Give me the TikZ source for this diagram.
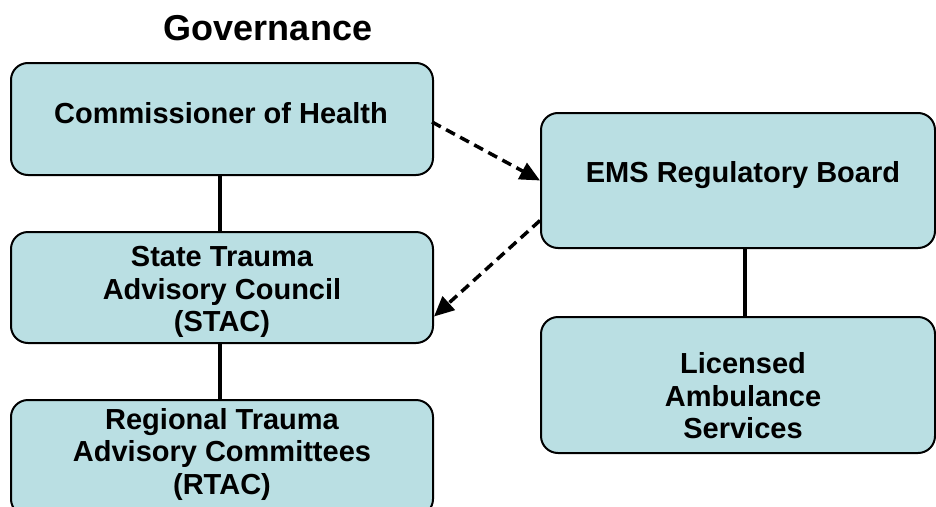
\documentclass[tikz,border=0pt]{standalone}
\usepackage{fontspec}
\setmainfont{Liberation Sans}
\usetikzlibrary{arrows.meta,calc}
\definecolor{boxblue}{RGB}{186,223,227}
\tikzset{
  govbox/.style={rectangle, rounded corners=17pt, draw=black, line width=2pt, fill=boxblue, inner sep=0pt},
  govtext/.style={align=center, inner sep=0pt, font=\bfseries\fontsize{29}{32.5}\selectfont},
  solidlink/.style={line width=4.5pt, draw=black},
  dashlink/.style={line width=3.5pt, draw=black, dash pattern=on 10pt off 6pt, -{Triangle[length=20pt,width=18pt]}},
}
\begin{document}
\begin{tikzpicture}[x=1pt,y=-1pt]
\useasboundingbox (0,0) rectangle (936,506);
\begin{scope}
\clip (0,0) rectangle (936,506);
\node[govbox, minimum width=422pt, minimum height=112pt] (com) at (222,119) {};
\node[govbox, minimum width=422pt, minimum height=111pt] (stac) at (222,287.5) {};
\node[govbox, minimum width=422pt, minimum height=116pt] (rtac) at (222,458) {};
\node[govbox, minimum width=394pt, minimum height=135pt] (ems) at (738,180.5) {};
\node[govbox, minimum width=394pt, minimum height=136pt] (lic) at (738,385) {};

\node[font=\bfseries\fontsize{36}{40}\selectfont, inner sep=0pt] (title) at (268,28) {Governance};
\node[govtext] (comt) at (221,113) {Commissioner of Health};
\node[govtext] (stact) at (222,292) {State Trauma\\Advisory Council\\(STAC)};
\node[govtext] (rtact) at (222,454) {Regional Trauma\\Advisory Committees\\(RTAC)};
\node[govtext] (emst) at (743,175) {EMS Regulatory Board};
\node[govtext] (lict) at (743,396) {Licensed\\Ambulance\\Services};

\draw[solidlink] (com.south -| 220,0) -- (stac.north -| 220,0);
\draw[solidlink] (stac.south -| 220,0) -- (rtac.north -| 220,0);
\draw[solidlink] (ems.south -| 745,0) -- (lic.north -| 745,0);

\draw[dashlink] ($(com.east)+(-2,3)$) -- (ems.west);
\draw[dashlink] ($(ems.west)+(0,40)$) -- ($(stac.east)+(0,29)$);
\end{scope}
\end{tikzpicture}
\end{document}
